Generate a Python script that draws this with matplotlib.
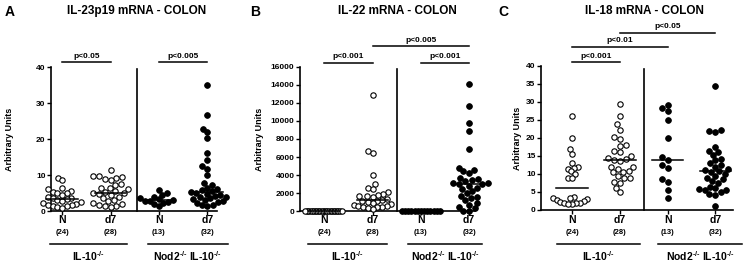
import numpy as np
import matplotlib
matplotlib.use("Agg")
import matplotlib.pyplot as plt

plt.rcParams['font.family'] = ['Liberation Sans', 'DejaVu Sans']
plt.rcParams['font.weight'] = 'bold'
plt.rcParams['mathtext.fontset'] = 'custom'
plt.rcParams['mathtext.rm'] = 'Liberation Sans:bold'
plt.rcParams['mathtext.bf'] = 'Liberation Sans:bold'
plt.rcParams['mathtext.it'] = 'Liberation Sans:bold'

# ---------------- data ----------------
categories = ["N", "d7", "N", "d7"]
counts = ["(24)", "(28)", "(13)", "(32)"]
groups = [r"IL-10$^{\text{-/-}}$", r"Nod2$^{\text{-/-}}$ IL-10$^{\text{-/-}}$"]
titles = ["IL-23p19 mRNA - COLON", "IL-22 mRNA - COLON", "IL-18 mRNA - COLON"]
letters = ["A", "B", "C"]
ylabel = "Arbitrary Units"

il23_n = [9.2, 8.7, 6.3, 6.0, 5.5, 5.2, 5.0, 4.9, 4.5, 4.0, 3.7, 3.5, 3.2, 3.0,
          2.7, 2.4, 2.1, 1.9, 1.8, 1.6, 1.5, 1.3, 1.1, 0.9]
il23_d7 = [11.5, 9.7, 9.6, 9.5, 9.3, 8.8, 8.5, 7.5, 7.3, 6.5, 6.3, 6.0, 5.5, 5.2,
           5.0, 4.9, 4.8, 4.5, 3.8, 3.5, 3.0, 2.7, 2.3, 2.0, 1.8, 1.5, 1.3, 1.2]
il23_nod_n = [5.8, 5.0, 4.5, 3.8, 3.5, 3.2, 3.0, 2.8, 2.8, 2.5, 2.3, 2.0, 1.5]
il23_nod_d7 = [35.0, 26.8, 22.8, 22.0, 20.2, 16.0, 14.2, 12.5, 11.8, 10.0, 7.8, 7.2,
               6.5, 6.2, 5.8, 5.5, 5.2, 5.0, 4.8, 4.5, 4.2, 4.0, 3.8, 3.5, 3.2, 3.0,
               2.7, 2.5, 2.2, 1.8, 1.6, 1.5]

il22_n = [0.0] * 24
il22_d7 = [12900, 6700, 6450, 3950, 3000, 2600, 2400, 2100, 1900, 1750, 1700, 1650,
           1600, 1300, 1200, 1150, 1100, 1000, 900, 800, 700, 600, 600, 500, 500,
           400, 300, 200]
il22_nod_n = [0.0] * 13
il22_nod_d7 = [14100, 11700, 9800, 8900, 6850, 4800, 4550, 4400, 4200, 3700, 3600,
               3400, 3300, 3150, 3100, 3050, 3000, 2800, 2600, 2400, 2200, 2000, 1700,
               1600, 1500, 1200, 900, 700, 500, 300, 50, 0]

il18_n = [26.2, 20.0, 17.0, 15.5, 13.0, 12.0, 11.8, 11.5, 10.8, 10.0, 9.0, 8.8,
          3.5, 3.3, 3.2, 3.0, 2.7, 2.5, 2.2, 2.0, 2.0, 1.9, 1.8, 1.8]
il18_d7 = [29.5, 26.0, 23.8, 22.3, 20.2, 19.6, 18.0, 17.7, 16.5, 16.0, 15.0, 14.5,
           14.2, 13.9, 13.7, 12.0, 12.0, 11.5, 10.8, 10.5, 10.5, 9.5, 9.0, 8.8, 7.8,
           7.5, 6.2, 5.0]
il18_nod_n = [29.2, 28.3, 27.5, 25.0, 20.0, 14.8, 14.0, 12.5, 11.8, 8.5, 7.8, 5.5, 3.2]
il18_nod_d7 = [34.5, 22.3, 22.0, 21.7, 17.5, 16.5, 16.0, 15.3, 14.2, 13.8, 13.0, 12.5,
               12.0, 11.5, 11.0, 10.8, 10.6, 10.0, 9.5, 9.0, 8.5, 8.0, 7.5, 6.5, 6.0,
               5.8, 5.5, 5.5, 5.0, 4.5, 4.3, 1.0]

panel_data = [
    [il23_n, il23_d7, il23_nod_n, il23_nod_d7],
    [il22_n, il22_d7, il22_nod_n, il22_nod_d7],
    [il18_n, il18_d7, il18_nod_n, il18_nod_d7],
]
filled = [False, False, True, True]

yticks = [[0, 10, 20, 30, 40],
          [0, 2000, 4000, 6000, 8000, 10000, 12000, 14000, 16000],
          [0, 5, 10, 15, 20, 25, 30, 35, 40]]
ymax = [40, 16000, 40]

# significance: (group i, group j, label, line y in pixels from top)
sig = [
    [(1, 2, "p<0.05", 62), (3, 4, "p<0.005", 62)],
    [(1, 2, "p<0.001", 63), (3, 4, "p<0.001", 63), (2, 4, "p<0.005", 46)],
    [(1, 2, "p<0.001", 62), (1, 3, "p<0.01", 47), (2, 4, "p<0.05", 33)],
]

# ---------------- layout ----------------
W, H = 743, 263
fig = plt.figure(figsize=(W / 100, H / 100), dpi=100)

# axes boxes in pixels: left, right, top, bottom
boxes = [(51, 217, 67, 211), (300, 475, 67, 211), (541, 733, 66, 210)]
xlims = [(0.77, 4.2), (0.5, 4.12), (0.35, 4.37)]
dividers = [2.55, 2.51, 2.51]
grp_spans = [[(0.75, 2.35), (2.78, 4.42)],
             [(0.67, 2.3), (2.74, 4.27)],
             [(0.69, 2.43), (2.8, 4.56)]]
title_x = [137, 397, 644]
letter_x = [10, 255, 503]
ylabel_x = [10, 260, 517]


def swarm_x(ax, x0, vals, d_px, max_half):
    tr = ax.transData
    pts = tr.transform(np.column_stack([np.full(len(vals), x0), vals]))
    ys = pts[:, 1]
    xc = pts[0, 0]
    order = np.argsort(ys, kind="stable")
    placed = []
    offs = np.zeros(len(vals))
    for i in order:
        y = ys[i]
        cands = [0.0]
        for (px_, py_) in placed:
            dy = abs(py_ - y)
            if dy < d_px:
                dx = np.sqrt(d_px ** 2 - dy ** 2)
                cands += [px_ + dx, px_ - dx]
        cands.sort(key=lambda c: (abs(c), c))
        for c in cands:
            if all((c - px_) ** 2 + (y - py_) ** 2 >= d_px ** 2 - 1e-6 for px_, py_ in placed):
                offs[i] = c
                placed.append((c, y))
                break
    m = np.max(np.abs(offs)) if len(offs) else 0
    if m > max_half:
        offs = offs * max_half / m
    back = tr.inverted().transform(np.column_stack([xc + offs, ys]))
    return back[:, 0]


for p in range(3):
    l, r, t, b = boxes[p]
    hpx = b - t
    ax = fig.add_axes([l / W, 1 - b / H, (r - l) / W, hpx / H])
    ax.set_xlim(*xlims[p])
    ax.set_ylim(0, ymax[p])
    for s in ["top", "right"]:
        ax.spines[s].set_visible(False)
    for s in ["left", "bottom"]:
        ax.spines[s].set_linewidth(1.2)
    ax.set_yticks(yticks[p])
    ax.tick_params(axis="y", labelsize=6, length=3, width=1, pad=1)
    for lab in ax.get_yticklabels():
        lab.set_fontweight("bold")
    ax.set_xticks([1, 2, 3, 4])
    ax.set_xticklabels([])
    ax.tick_params(axis="x", length=3, width=1)

    def fy(ypix, b=b, hpx=hpx):
        return (b - ypix) / hpx

    # divider
    ax.plot([dividers[p], dividers[p]], [0, fy(69)], color="black", lw=1.2,
            transform=ax.get_xaxis_transform(), clip_on=False)

    for gi, vals in enumerate(panel_data[p]):
        x0 = gi + 1
        xs = swarm_x(ax, x0, np.asarray(vals, dtype=float), 6.0, 19)
        if filled[gi]:
            ax.scatter(xs, vals, s=17, facecolor="black", edgecolor="black",
                       linewidth=0.6, zorder=3, clip_on=False)
        else:
            ax.scatter(xs, vals, s=15, facecolor="white", edgecolor="black",
                       linewidth=0.8, zorder=3, clip_on=False)
        med = np.median(vals)
        ax.plot([x0 - 0.33, x0 + 0.33], [med, med], color="black", lw=1.1,
                zorder=4, clip_on=False)
        ax.text(x0, fy(220), categories[gi], transform=ax.get_xaxis_transform(),
                ha="center", va="center", fontsize=7.5, fontweight="bold")
        ax.text(x0, fy(233), counts[gi], transform=ax.get_xaxis_transform(),
                ha="center", va="center", fontsize=5.5, fontweight="bold")

    for gi, (g0, g1) in enumerate(grp_spans[p]):
        ax.plot([g0, g1], [fy(244), fy(244)], color="black", lw=1.1,
                transform=ax.get_xaxis_transform(), clip_on=False)
        ax.text((g0 + g1) / 2, fy(256), groups[gi], transform=ax.get_xaxis_transform(),
                ha="center", va="center", fontsize=7.5, fontweight="bold")

    for (i, j, lab, ypix) in sig[p]:
        ax.plot([i, j], [fy(ypix), fy(ypix)], color="black", lw=1.1,
                transform=ax.get_xaxis_transform(), clip_on=False)
        ax.text((i + j) / 2, fy(ypix - 6), lab, transform=ax.get_xaxis_transform(),
                ha="center", va="center", fontsize=6, fontweight="bold")

    fig.text(title_x[p] / W, 1 - 11 / H, titles[p], ha="center", va="center",
             fontsize=8.5, fontweight="bold")
    fig.text(letter_x[p] / W, 1 - 12 / H, letters[p], ha="center", va="center",
             fontsize=10, fontweight="bold")
    fig.text(ylabel_x[p] / W, 1 - ((t + b) / 2) / H, ylabel, rotation=90,
             ha="center", va="center", fontsize=6.5, fontweight="bold")

fig.savefig("out.png", dpi=100)
